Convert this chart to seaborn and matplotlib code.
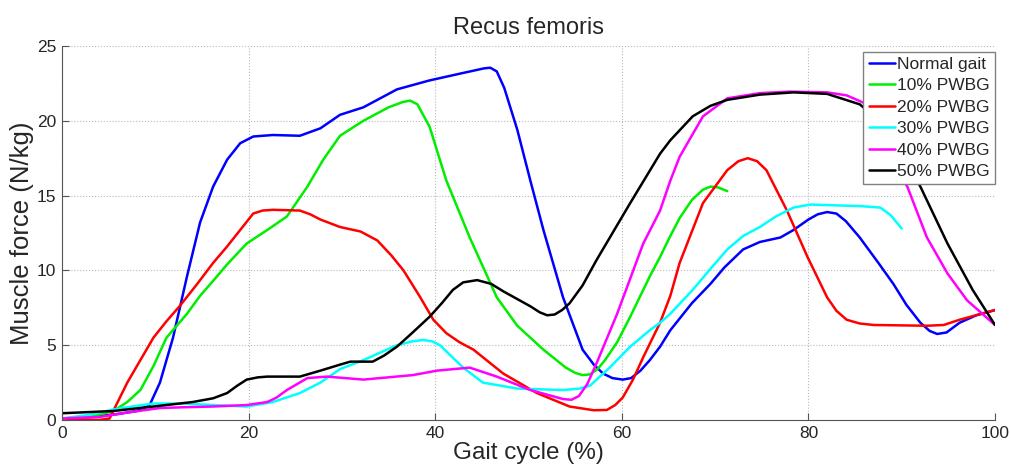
import pandas as pd
import matplotlib
matplotlib.use('Agg')
import matplotlib.pyplot as plt
import seaborn as sns

# Rectus femoris muscle force (gait cycle %, N/kg)
NORMAL_X = [0, 3, 6, 8, 9.4, 10.5, 11.9, 13.4, 14.8, 16.2, 17.7, 19.1, 20.5, 22.6, 25.5, 27.7,
            29.8, 32.3, 35.9, 39.4, 43, 45.2, 45.9, 46.6, 47.4, 48.8, 50.2, 51.6, 53.7, 55.8, 57,
            58, 59, 60.1, 61, 62, 63, 64.1, 65.2, 67.5, 69.5, 71, 73, 74.8, 77, 78.4, 80, 81,
            82, 83, 84, 85.5, 87.5, 89.1, 90.5, 92, 93, 93.8, 94.8, 96.2, 98, 100]
NORMAL_Y = [0.1, 0.2, 0.4, 0.6, 1.0, 2.5, 5.5, 9.6, 13.2, 15.6, 17.4, 18.5, 18.95, 19.05, 19.0, 19.5,
            20.4, 20.9, 22.1, 22.7, 23.2, 23.5, 23.55, 23.3, 22.2, 19.4, 16.0, 12.7, 8.2, 4.7, 3.7,
            3.1, 2.8, 2.7, 2.8, 3.3, 4.0, 4.9, 6.0, 7.8, 9.1, 10.2, 11.4, 11.9, 12.2, 12.7, 13.4, 13.75,
            13.9, 13.8, 13.3, 12.2, 10.5, 9.1, 7.7, 6.5, 5.95, 5.75, 5.85, 6.5, 7.0, 7.35]

P10_X = [0, 3, 5.5, 7, 8.4, 9.8, 11.2, 13.4, 14.8, 16.2, 17.7, 19.8, 22, 24.1, 26.3, 28, 29.8,
         32.3, 35, 36.5, 37.3, 38.1, 39.4, 41.2, 43.7, 46.6, 48.8, 51.6, 54, 55, 55.8, 56.6,
         57.4, 58.2, 59.5, 60.9, 63, 64.1, 65.2, 66.2, 67.5, 68.7, 69.5, 70.3, 71.3]
P10_Y = [0.05, 0.2, 0.6, 1.2, 2.0, 3.6, 5.5, 7.1, 8.3, 9.3, 10.4, 11.8, 12.7, 13.6, 15.6, 17.4, 19.0,
         20.0, 20.9, 21.25, 21.35, 21.1, 19.6, 16.0, 12.2, 8.2, 6.3, 4.7, 3.5, 3.15, 3.0, 3.05,
         3.4, 4.0, 5.2, 6.9, 9.6, 10.9, 12.3, 13.5, 14.7, 15.4, 15.6, 15.55, 15.3]

P20_X = [0, 4, 5.1, 7, 8.4, 9.8, 11.2, 12.6, 14.5, 16.2, 17.7, 19.1, 20.5, 21.5, 22.6, 25.5, 26.6,
         27.7, 29.8, 32, 33.8, 35.3, 36.6, 38.4, 39.8, 41.2, 42.6, 44.1, 47.3, 50.9, 54.4, 57,
         58.4, 59.3, 60.1, 61.2, 62.3, 64.1, 65.2, 66.2, 68.7, 71.3, 72.5, 73.5, 74.5, 75.5,
         77.7, 79.9, 82, 83, 84.1, 85.5, 87, 92.7, 94.5, 96.2, 100]
P20_Y = [0.05, 0.0, 0.1, 2.5, 4.0, 5.5, 6.6, 7.6, 9.1, 10.5, 11.6, 12.7, 13.8, 14.0, 14.05, 14.0, 13.75,
         13.4, 12.9, 12.6, 12.0, 11.0, 10.0, 8.2, 6.7, 5.8, 5.2, 4.7, 3.1, 1.8, 0.9, 0.65,
         0.67, 1.0, 1.5, 2.7, 4.2, 6.5, 8.3, 10.5, 14.5, 16.7, 17.3, 17.5, 17.3, 16.7,
         14.0, 10.9, 8.2, 7.3, 6.7, 6.45, 6.35, 6.3, 6.35, 6.7, 7.35]

P30_X = [0, 3, 5.5, 7.5, 9.8, 13, 16.2, 19.8, 22.6, 25.5, 27.7, 29.8, 32.3, 35.9, 37.5, 38.7, 39.7,
         40.5, 43, 45.1, 48.8, 53.7, 55.5, 56.6, 58.7, 60.9, 63, 64.1, 65.2, 67.6, 69.5, 71.3,
         73, 74.8, 76.5, 78.4, 80.2, 85.5, 87.7, 88.8, 90]
P30_Y = [0.1, 0.35, 0.7, 0.9, 1.1, 1.1, 1.0, 0.9, 1.2, 1.8, 2.5, 3.4, 4.0, 5.0, 5.25, 5.35, 5.25,
         5.0, 3.5, 2.5, 2.1, 2.0, 2.1, 2.3, 3.5, 4.9, 6.0, 6.5, 7.1, 8.7, 10.1, 11.4,
         12.3, 12.9, 13.6, 14.2, 14.4, 14.3, 14.2, 13.7, 12.8]

P40_X = [0, 4, 7, 10.5, 13, 16.2, 19.8, 22, 23, 24.1, 26.3, 28.4, 32.3, 37.6, 40.2, 43.7, 46.6,
         50.2, 53.7, 54.6, 55.4, 56.3, 57.3, 59.5, 62.3, 64.1, 65.2, 66.2, 68.7, 71.3, 74.8, 78,
         82, 84.1, 86.3, 88, 89.8, 90.6, 92.7, 94.9, 97, 100]
P40_Y = [0.1, 0.2, 0.5, 0.8, 0.85, 0.9, 1.0, 1.2, 1.5, 2.0, 2.8, 2.9, 2.7, 3.0, 3.3, 3.5, 2.9,
         2.0, 1.4, 1.35, 1.6, 2.4, 3.8, 7.1, 11.8, 14.0, 16.0, 17.6, 20.3, 21.5, 21.85, 21.95,
         21.9, 21.7, 21.1, 19.6, 16.4, 15.6, 12.2, 9.8, 8.0, 6.35]

P50_X = [0, 5.5, 11.2, 14, 16.2, 17.7, 18.8, 19.8, 21, 22, 25.5, 27.7, 29.8, 30.9, 33.3, 34.5,
         35.9, 37.5, 39.4, 40.7, 41.9, 43, 44.5, 46, 47.3, 50.2, 51.2, 52, 52.8, 53.6, 54.4, 55.8,
         57.3, 60.9, 64.1, 65.2, 67.6, 69.5, 71.3, 74.8, 78.4, 82, 85.5, 88, 90, 92, 94.9, 97.6, 100]
P50_Y = [0.45, 0.6, 1.0, 1.2, 1.45, 1.8, 2.3, 2.7, 2.85, 2.9, 2.9, 3.3, 3.7, 3.9, 3.9, 4.3,
         4.9, 5.8, 6.9, 7.8, 8.7, 9.2, 9.35, 9.1, 8.6, 7.6, 7.2, 7.0, 7.05, 7.35, 7.8, 9.0,
         10.7, 14.5, 17.8, 18.7, 20.3, 21.0, 21.4, 21.75, 21.9, 21.8, 21.1, 19.8, 17.8, 15.6, 11.8, 8.7, 6.35]

LABELS = ['Normal gait', '10% PWBG', '20% PWBG', '30% PWBG', '40% PWBG', '50% PWBG']
COLORS = ['#0000ff', '#00ee00', '#ff0000', '#00ffff', '#ff00ff', '#000000']

series = [(NORMAL_X, NORMAL_Y), (P10_X, P10_Y), (P20_X, P20_Y),
          (P30_X, P30_Y), (P40_X, P40_Y), (P50_X, P50_Y)]
frames = []
for label, (xs, ys) in zip(LABELS, series):
    frames.append(pd.DataFrame({'gait': xs, 'force': ys, 'group': label}))
df = pd.concat(frames, ignore_index=True)

sns.set_style('white')
plt.rcParams['font.family'] = ['Liberation Sans', 'DejaVu Sans']

fig = plt.figure(figsize=(10.11, 4.68), dpi=100)
ax = fig.add_axes([0.0613, 0.1026, 0.9229, 0.7991])

sns.lineplot(data=df, x='gait', y='force', hue='group', hue_order=LABELS,
             palette=dict(zip(LABELS, COLORS)), sort=False, estimator=None,
             linewidth=1.8, ax=ax)

ax.set_xlim(0, 100)
ax.set_ylim(0, 25)
ax.set_xticks([0, 20, 40, 60, 80, 100])
ax.set_yticks([0, 5, 10, 15, 20, 25])
ax.grid(True, linestyle=':', color='#b8b8b8', linewidth=0.8)
ax.tick_params(direction='in', length=5, width=0.8, colors='#555555',
               labelsize=12.5, labelcolor='#262626', pad=4, top=False, right=False,
               bottom=True, left=True)
for side in ['top', 'right']:
    ax.spines[side].set_visible(False)
for side in ['left', 'bottom']:
    ax.spines[side].set_color('#555555')
    ax.spines[side].set_linewidth(0.8)

ax.set_title('Recus femoris', fontsize=17, pad=9)
ax.set_xlabel('Gait cycle (%)', fontsize=17.5, labelpad=1)
ax.set_ylabel('Muscle force (N/kg)', fontsize=18.5, labelpad=2)

leg = ax.legend(loc='upper right', bbox_to_anchor=(1.0, 0.985), fontsize=12.5,
                frameon=True, fancybox=False, framealpha=1, edgecolor='#808080',
                handlelength=1.5, handletextpad=0.15, labelspacing=0.36,
                borderpad=0.3, borderaxespad=0)
leg.get_frame().set_linewidth(1.0)

fig.savefig('out.png', dpi=100)
